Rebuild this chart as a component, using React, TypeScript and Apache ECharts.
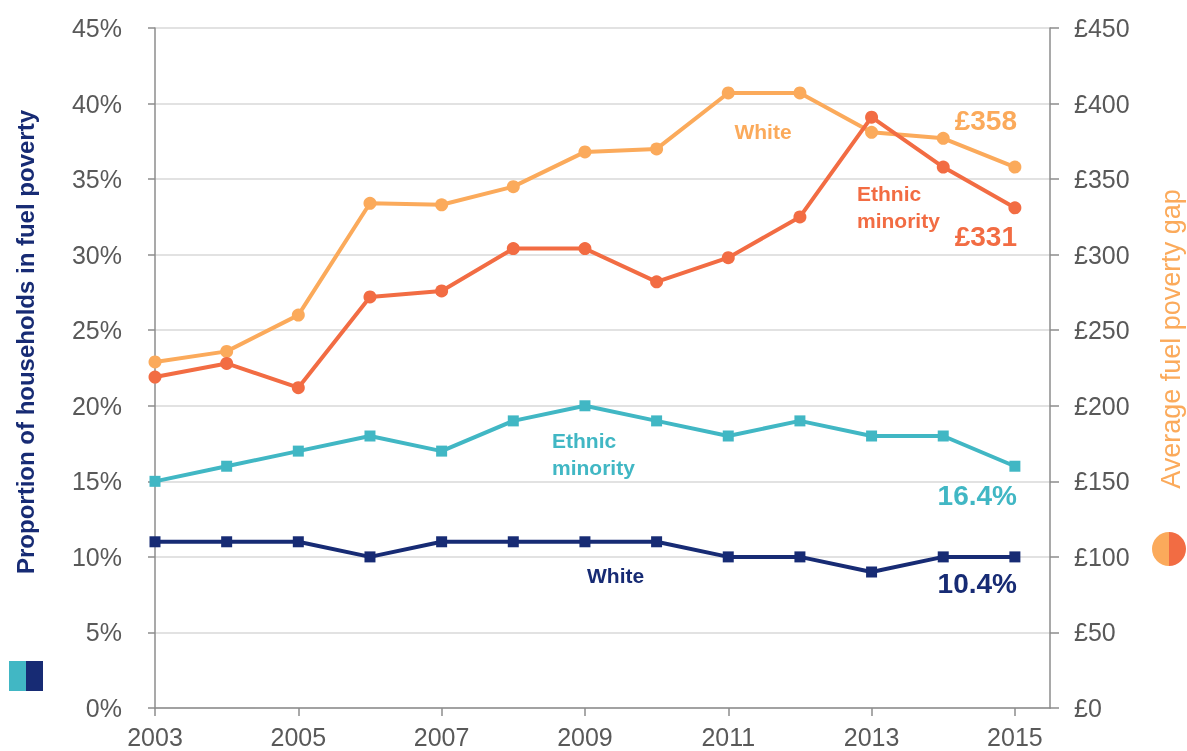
import React, { useEffect, useRef } from "react";
import * as echarts from "echarts";

const years = [2003, 2004, 2005, 2006, 2007, 2008, 2009, 2010, 2011, 2012, 2013, 2014, 2015];
const xLabelYears = [2003, 2005, 2007, 2009, 2011, 2013, 2015];
const whitePct = [11, 11, 11, 10, 11, 11, 11, 11, 10, 10, 9, 10, 10];
const ethnicPct = [15, 16, 17, 18, 17, 19, 20, 19, 18, 19, 18, 18, 16];
const whiteGap = [229, 236, 260, 334, 333, 345, 368, 370, 407, 407, 381, 377, 358];
const ethnicGap = [219, 228, 212, 272, 276, 304, 304, 282, 298, 325, 391, 358, 331];

const C_LORANGE = "#FBAA5B";
const C_RED = "#F26C43";
const C_TEAL = "#41B7C4";
const C_NAVY = "#172B74";
const C_GRAY = "#595959";
const FONT = "Liberation Sans, Arial, sans-serif";

const pairs = (vals: number[]) => years.map((y, i) => [y, vals[i]]);

export default function App() {
  const ref = useRef<HTMLDivElement>(null);
  useEffect(() => {
    if (!ref.current) return;
    const chart = echarts.init(ref.current, null, { renderer: "svg" });
    const txt = (x: number, y: number, text: string, color: string, size: number, align: string, weight = "bold", lh?: number) => ({
      type: "text",
      x,
      y,
      style: {
        text,
        fill: color,
        fontSize: size,
        fontWeight: weight,
        fontFamily: FONT,
        align,
        verticalAlign: "middle",
        lineHeight: lh || size + 6,
      },
    });
    chart.setOption({
      animation: false,
      textStyle: { fontFamily: FONT },
      grid: { left: 155, right: 137, top: 28, bottom: 43, containLabel: false },
      xAxis: {
        type: "value",
        min: 2003,
        max: 2015.49,
        axisLine: { show: true, lineStyle: { color: "#8C8C8C", width: 1.5 } },
        axisTick: { show: true, customValues: xLabelYears, length: 8, lineStyle: { color: "#8C8C8C", width: 1.5 } },
        axisLabel: {
          customValues: xLabelYears,
          color: C_GRAY,
          fontSize: 25,
          margin: 16,
          fontFamily: FONT,
          formatter: (v: number) => String(Math.round(v)),
        },
        splitLine: { show: false },
      },
      yAxis: [
        {
          type: "value",
          min: 0,
          max: 45,
          interval: 5,
          position: "left",
          axisLine: { show: true, lineStyle: { color: "#8C8C8C", width: 1.5 } },
          axisTick: { show: true, length: 7, lineStyle: { color: "#8C8C8C", width: 1.5 } },
          axisLabel: { color: C_GRAY, fontSize: 25, margin: 33, formatter: "{value}%", fontFamily: FONT },
          splitLine: { show: true, lineStyle: { color: "#D9D9D9", width: 1.5 } },
        },
        {
          type: "value",
          min: 0,
          max: 450,
          interval: 50,
          position: "right",
          axisLine: { show: true, lineStyle: { color: "#8C8C8C", width: 1.5 } },
          axisTick: { show: true, length: 9, lineStyle: { color: "#8C8C8C", width: 1.5 } },
          axisLabel: { color: C_GRAY, fontSize: 25, margin: 24, formatter: "£{value}", fontFamily: FONT },
          splitLine: { show: false },
        },
      ],
      series: [
        {
          name: "White gap",
          type: "line",
          yAxisIndex: 1,
          data: pairs(whiteGap),
          symbol: "circle",
          symbolSize: 13,
          lineStyle: { color: C_LORANGE, width: 4 },
          itemStyle: { color: C_LORANGE },
        },
        {
          name: "Ethnic minority gap",
          type: "line",
          yAxisIndex: 1,
          data: pairs(ethnicGap),
          symbol: "circle",
          symbolSize: 13,
          lineStyle: { color: C_RED, width: 4 },
          itemStyle: { color: C_RED },
        },
        {
          name: "Ethnic minority %",
          type: "line",
          yAxisIndex: 0,
          data: pairs(ethnicPct),
          symbol: "rect",
          symbolSize: 11,
          lineStyle: { color: C_TEAL, width: 4 },
          itemStyle: { color: C_TEAL },
        },
        {
          name: "White %",
          type: "line",
          yAxisIndex: 0,
          data: pairs(whitePct),
          symbol: "rect",
          symbolSize: 11,
          lineStyle: { color: C_NAVY, width: 4 },
          itemStyle: { color: C_NAVY },
        },
      ],
      graphic: [
        {
          type: "text",
          x: 25,
          y: 342,
          rotation: Math.PI / 2,
          style: {
            text: "Proportion of households in fuel poverty",
            fill: C_NAVY,
            fontSize: 24,
            fontWeight: "bold",
            fontFamily: FONT,
            align: "center",
            verticalAlign: "middle",
          },
        },
        { type: "rect", shape: { x: 9, y: 661, width: 17, height: 30 }, style: { fill: C_TEAL } },
        { type: "rect", shape: { x: 26, y: 661, width: 17, height: 30 }, style: { fill: C_NAVY } },
        {
          type: "text",
          x: 1171,
          y: 339,
          rotation: Math.PI / 2,
          style: {
            text: "Average fuel poverty gap",
            fill: C_LORANGE,
            fontSize: 27,
            fontFamily: FONT,
            align: "center",
            verticalAlign: "middle",
          },
        },
        {
          type: "sector",
          shape: { cx: 1169, cy: 549, r: 17, startAngle: Math.PI / 2, endAngle: (3 * Math.PI) / 2 },
          style: { fill: C_LORANGE },
        },
        {
          type: "sector",
          shape: { cx: 1169, cy: 549, r: 17, startAngle: -Math.PI / 2, endAngle: Math.PI / 2 },
          style: { fill: C_RED },
        },
        txt(763, 131, "White", C_LORANGE, 21, "center"),
        txt(857, 207, "Ethnic\nminority", C_RED, 21, "left", "bold", 27),
        txt(1017, 120, "£358", C_LORANGE, 28, "right"),
        txt(1017, 236, "£331", C_RED, 28, "right"),
        txt(552, 454, "Ethnic\nminority", C_TEAL, 21, "left", "bold", 27),
        txt(587, 575, "White", C_NAVY, 21, "left"),
        txt(1017, 495, "16.4%", C_TEAL, 28, "right"),
        txt(1017, 583, "10.4%", C_NAVY, 28, "right"),
      ],
    });
    return () => chart.dispose();
  }, []);
  return <div ref={ref} style={{ position: "fixed", left: 0, top: 0, width: 1187, height: 751 }} />;
}
